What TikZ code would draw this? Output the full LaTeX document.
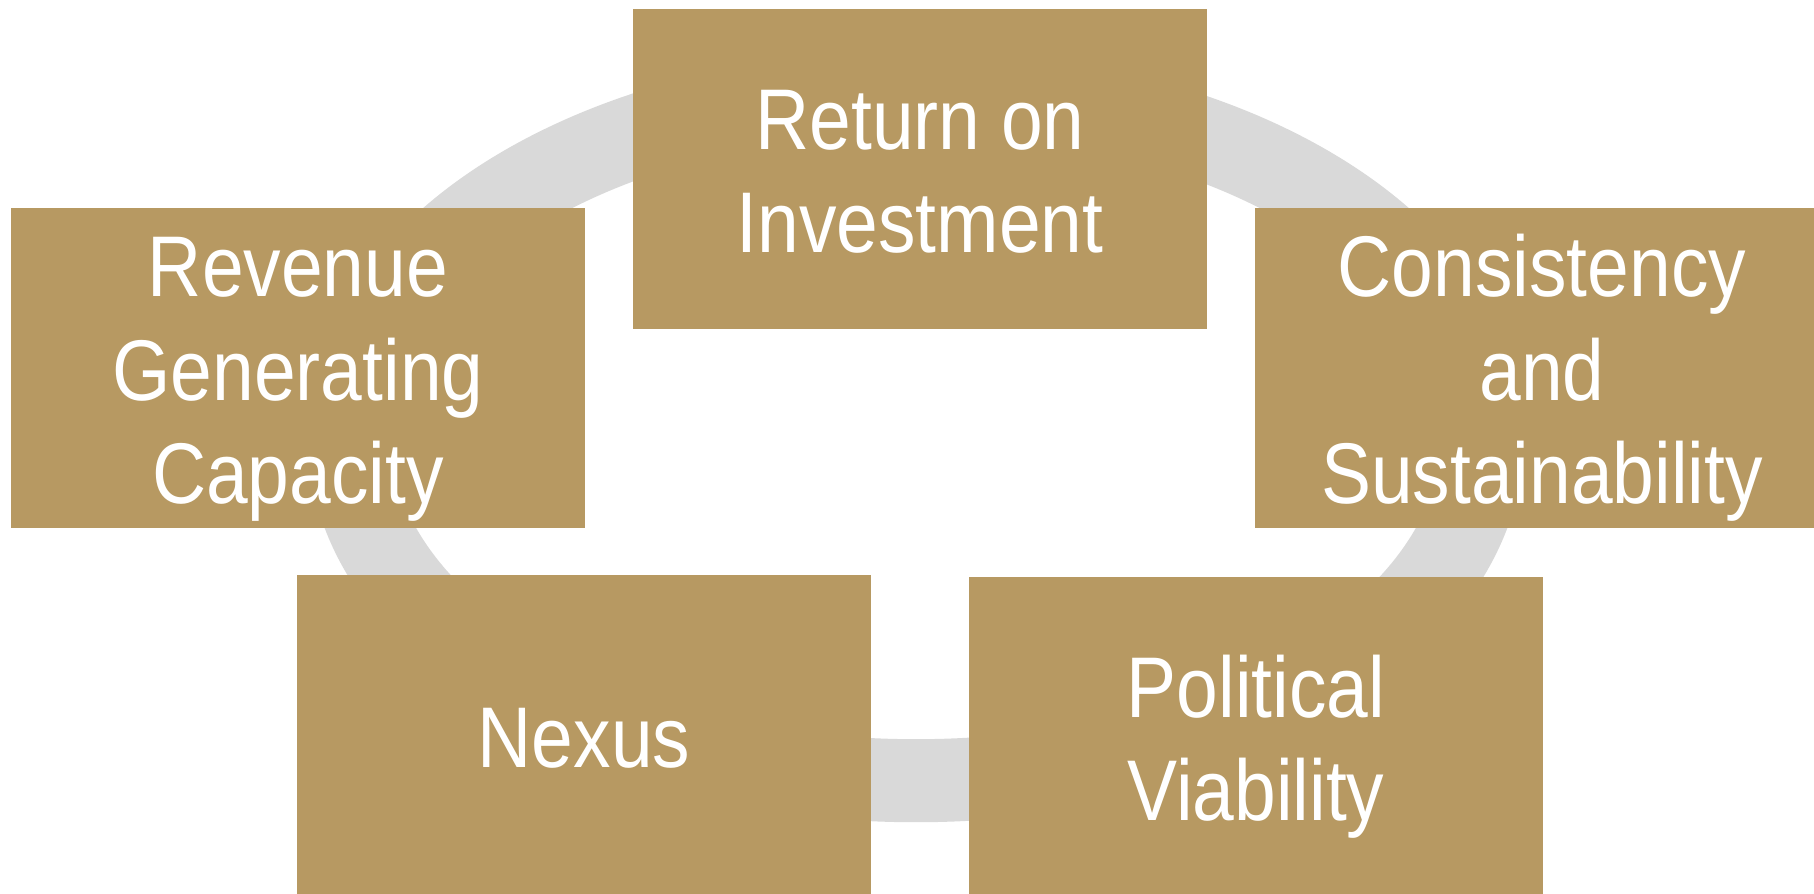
\documentclass[tikz,border=0pt]{standalone}
\usepackage{fontspec}
\setmainfont[FakeStretch=0.87]{Liberation Sans}
\usetikzlibrary{positioning}
\definecolor{boxgold}{RGB}{183,153,98}
\definecolor{ringgray}{RGB}{217,217,217}
% same height and depth on every line of a box
\newcommand{\gs}{\rule[-5.4pt]{0pt}{29pt}}

\begin{document}
\begin{tikzpicture}[
        x=0.01cm, y=-0.01cm,
        box/.style={rectangle, fill=boxgold, draw=none, minimum width=5.73cm, minimum height=3.2cm, inner sep=0pt, align=center, text=white, font=\fontsize{24.5}{29.3}\selectfont},
        ring/.style={draw=ringgray, line width=0.83cm}
    ]

    \useasboundingbox (0,0) rectangle (1814,893);
    \clip (0,0) rectangle (1814,893);

    % Background ring
    \coordinate (hub) at (916,436);
    \draw[ring] (hub) ellipse [x radius=5.665cm, y radius=3.445cm];

    % Define nodes - top row
    \node[box] (roi) at (920,169) {\gs Return on\\\gs Investment};

    % Middle row
    \node[box] (revenue) at (298,368) {\gs Revenue\\\gs Generating\\\gs Capacity};
    \node[box] (consist) at (1542,368) {\gs Consistency\\\gs and\\\gs Sustainability};

    % Bottom row
    \node[box] (nexus) at (584,735) {\gs Nexus};
    \node[box] (politic) at (1256,737) {\gs Political\\\gs Viability};

\end{tikzpicture}
\end{document}
